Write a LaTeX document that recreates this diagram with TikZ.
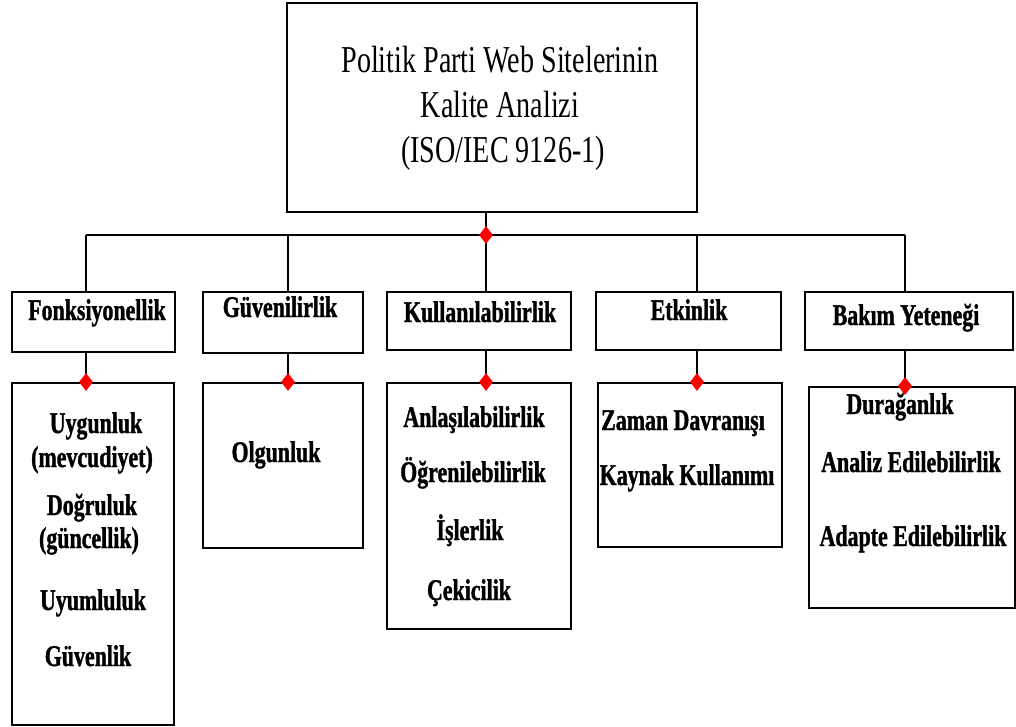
\documentclass[tikz,border=0pt]{standalone}
\usepackage{fontspec}
\setmainfont{Liberation Serif}
\newfontfamily\headfont[FakeStretch=0.74]{Liberation Serif}
\newfontfamily\itemfont[FakeStretch=0.73,FakeBold=1.2]{Liberation Serif Bold}
\usetikzlibrary{shapes.geometric}

\tikzset{
  box/.style={draw=black, line width=1.9pt, inner sep=0pt, anchor=north west},
  conn/.style={draw=black, line width=1.9pt},
  joint/.style={diamond, fill=red, draw=none, inner sep=0pt,
    minimum width=14pt, minimum height=18pt},
  headtxt/.style={anchor=base, inner sep=0pt,
    font=\headfont\fontsize{38}{45}\selectfont},
  itemtxt/.style={anchor=base, inner sep=0pt,
    font=\itemfont\fontsize{30}{34}\selectfont},
}

\begin{document}
\begin{tikzpicture}[x=1pt, y=-1pt]
  \fill[white] (0,0) rectangle (1016,727);
  \useasboundingbox (0,0) rectangle (1016,727);

  % root box
  \node[box, minimum width=410pt, minimum height=209pt] (top) at (286,2) {};
  \node[headtxt] (t1) at (500,73)  {Politik Parti Web Sitelerinin};
  \node[headtxt] (t2) at (500,118) {Kalite Analizi};
  \node[headtxt] (t3) at (503,163) {(ISO/IEC 9126-1)};

  % characteristic boxes
  \node[box, minimum width=163pt, minimum height=60pt] (cF) at (11,291) {};
  \node[box, minimum width=160pt, minimum height=61pt] (cG) at (202,291) {};
  \node[box, minimum width=184pt, minimum height=58pt] (cK) at (386,291) {};
  \node[box, minimum width=185pt, minimum height=58pt] (cE) at (595,291) {};
  \node[box, minimum width=208pt, minimum height=58pt] (cB) at (804,291) {};

  \node[itemtxt] (lF) at (97,320)  {Fonksiyonellik};
  \node[itemtxt] (lG) at (280,317) {Güvenilirlik};
  \node[itemtxt] (lK) at (480,322) {Kullanılabilirlik};
  \node[itemtxt] (lE) at (689,320) {Etkinlik};
  \node[itemtxt] (lB) at (906,325) {Bakım Yeteneği};

  % sub-characteristic boxes
  \node[box, minimum width=162pt, minimum height=342pt] (sF) at (11,382) {};
  \node[box, minimum width=160pt, minimum height=165pt] (sG) at (202,382) {};
  \node[box, minimum width=184pt, minimum height=246pt] (sK) at (386,382) {};
  \node[box, minimum width=184pt, minimum height=164pt] (sE) at (597,382) {};
  \node[box, minimum width=206pt, minimum height=221pt] (sB) at (808,386) {};

  \node[itemtxt] (f1) at (96,433) {Uygunluk};
  \node[itemtxt] (f2) at (92,467) {(mevcudiyet)};
  \node[itemtxt] (f3) at (92,515) {Doğruluk};
  \node[itemtxt] (f4) at (89,548) {(güncellik)};
  \node[itemtxt] (f5) at (93,610) {Uyumluluk};
  \node[itemtxt] (f6) at (88,666) {Güvenlik};

  \node[itemtxt] (g1) at (276,462) {Olgunluk};

  \node[itemtxt] (k1) at (474,427) {Anlaşılabilirlik};
  \node[itemtxt] (k2) at (473,482) {Öğrenilebilirlik};
  \node[itemtxt] (k3) at (470,540) {İşlerlik};
  \node[itemtxt] (k4) at (469,600) {Çekicilik};

  \node[itemtxt] (e1) at (683,430) {Zaman Davranışı};
  \node[itemtxt] (e2) at (687,485) {Kaynak Kullanımı};

  \node[itemtxt] (b1) at (900,414) {Durağanlık};
  \node[itemtxt] (b2) at (911,472) {Analiz Edilebilirlik};
  \node[itemtxt] (b3) at (913,546) {Adapte Edilebilirlik};

  % bus and branch points
  \coordinate (hub) at (486,235);
  \coordinate (jF) at (86,235);
  \coordinate (jG) at (288,235);
  \coordinate (jK) at (486,235);
  \coordinate (jE) at (697,235);
  \coordinate (jB) at (905,235);

  \draw[conn] (hub |- top.south) -- (hub);
  \draw[conn] (jF) -- (jB);
  \foreach \j/\c/\s in {jF/cF/sF, jG/cG/sG, jK/cK/sK, jE/cE/sE, jB/cB/sB} {
    \draw[conn] (\j) -- (\j |- \c.north);
    \draw[conn] (\j |- \c.south) -- (\j |- \s.north);
  }

  % red joints
  \node[joint] (dHub) at (hub) {};
  \node[joint] (dF) at (jF |- sF.north) {};
  \node[joint] (dG) at (jG |- sG.north) {};
  \node[joint] (dK) at (jK |- sK.north) {};
  \node[joint] (dE) at (jE |- sE.north) {};
  \node[joint] (dB) at (jB |- sB.north) {};
\end{tikzpicture}
\end{document}
